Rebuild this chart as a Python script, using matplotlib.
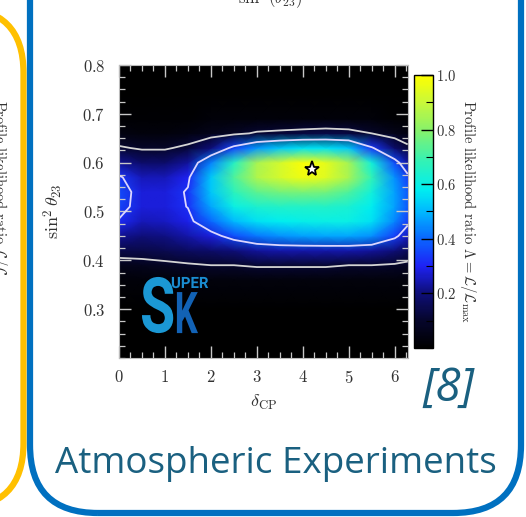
import numpy as np
import matplotlib
matplotlib.use("Agg")
import matplotlib.pyplot as plt
from matplotlib.colors import LinearSegmentedColormap
from matplotlib.patches import FancyBboxPatch, PathPatch
from matplotlib.textpath import TextPath
from matplotlib.font_manager import FontProperties
from matplotlib.transforms import IdentityTransform, Affine2D
from matplotlib.ticker import MultipleLocator

plt.rcParams['mathtext.fontset'] = 'cm'
plt.rcParams['font.family'] = ['cmr10', 'DejaVu Sans']
plt.rcParams['axes.formatter.use_mathtext'] = True

# grid
dcp = [0.0, 0.5, 1.0, 1.5, 2.0, 2.5, 3.0, 3.5, 4.0, 4.5, 5.0, 5.5, 6.0, 6.283]
s23 = [0.20, 0.30, 0.36, 0.39, 0.42, 0.45, 0.48, 0.51, 0.54, 0.57, 0.60, 0.63, 0.66, 0.69, 0.74, 0.80]
lam_cols = [
    [0, 0, 0.02, 0.06, 0.14, 0.22, 0.31, 0.35, 0.36, 0.33, 0.22, 0.11, 0.04, 0.01, 0, 0],
    [0, 0, 0.02, 0.07, 0.14, 0.20, 0.25, 0.28, 0.28, 0.25, 0.18, 0.09, 0.03, 0.01, 0, 0],
    [0, 0, 0.02, 0.08, 0.15, 0.21, 0.26, 0.28, 0.28, 0.25, 0.18, 0.09, 0.03, 0.01, 0, 0],
    [0, 0, 0.03, 0.09, 0.17, 0.24, 0.29, 0.32, 0.325, 0.30, 0.23, 0.12, 0.04, 0.01, 0, 0],
    [0, 0, 0.03, 0.10, 0.18, 0.28, 0.40, 0.48, 0.52, 0.52, 0.43, 0.20, 0.06, 0.02, 0, 0],
    [0, 0, 0.03, 0.10, 0.20, 0.36, 0.50, 0.60, 0.67, 0.72, 0.66, 0.35, 0.08, 0.02, 0, 0],
    [0, 0, 0.03, 0.11, 0.23, 0.42, 0.56, 0.64, 0.74, 0.86, 0.85, 0.46, 0.11, 0.02, 0, 0],
    [0, 0, 0.03, 0.11, 0.24, 0.45, 0.58, 0.65, 0.77, 0.92, 0.92, 0.52, 0.12, 0.02, 0, 0],
    [0, 0, 0.03, 0.11, 0.24, 0.47, 0.59, 0.65, 0.78, 0.97, 0.99, 0.56, 0.13, 0.02, 0, 0],
    [0, 0, 0.03, 0.11, 0.24, 0.48, 0.60, 0.65, 0.77, 0.94, 0.95, 0.56, 0.14, 0.02, 0, 0],
    [0, 0, 0.03, 0.10, 0.24, 0.48, 0.60, 0.63, 0.72, 0.85, 0.84, 0.52, 0.13, 0.02, 0, 0],
    [0, 0, 0.03, 0.10, 0.23, 0.45, 0.56, 0.58, 0.62, 0.68, 0.62, 0.33, 0.10, 0.02, 0, 0],
    [0, 0, 0.03, 0.09, 0.20, 0.34, 0.44, 0.47, 0.47, 0.45, 0.36, 0.18, 0.06, 0.01, 0, 0],
    [0, 0, 0.03, 0.08, 0.16, 0.26, 0.34, 0.38, 0.38, 0.34, 0.24, 0.12, 0.04, 0.01, 0, 0],
]
best_fit = (4.2, 0.588)
cl_levels = [0.1, 0.317]
y_ticks = [0.3, 0.4, 0.5, 0.6, 0.7, 0.8]
cbar_ticks = [0.2, 0.4, 0.6, 0.8, 1.0]

Z = np.array(lam_cols).T

cmap = LinearSegmentedColormap.from_list('pl', [
    (0.0, '#000000'), (0.1, '#06062c'), (0.2, '#0e0e78'), (0.3, '#1e22f5'),
    (0.4, '#0a66ff'), (0.5, '#00b8ff'), (0.58, '#00eef0'), (0.68, '#30f2b8'),
    (0.8, '#88f26a'), (0.9, '#c8f83a'), (1.0, '#ffff00')])

fig = plt.figure(figsize=(5.26, 5.17), dpi=100)
fig.patch.set_facecolor('white')

ax = fig.add_axes([119/526, 1 - 358/517, 288.7/526, 293/517])
ax.set_facecolor('black')
mesh = ax.pcolormesh(dcp, s23, Z, cmap=cmap, vmin=0, vmax=1, shading='gouraud')
ax.contour(dcp, s23, Z, levels=cl_levels, colors=['#d4d4d4', '#dcd6ff'], linewidths=1.3)
ax.plot(*best_fit, marker='*', ms=11, mfc='white', mec='black', mew=1.3)
ax.set_xlim(0, 2*np.pi)
ax.set_ylim(0.2, 0.8)
ax.xaxis.set_major_locator(MultipleLocator(1))
ax.xaxis.set_minor_locator(MultipleLocator(0.25))
ax.set_yticks(y_ticks)
ax.yaxis.set_minor_locator(MultipleLocator(0.025))
ax.tick_params(which='both', direction='in', top=True, right=True,
               color='#c8c8c8', labelcolor='#333333', labelsize=12)
ax.tick_params(which='major', length=8.5, width=1)
ax.tick_params(which='minor', length=4.5, width=0.9)
ax.tick_params(axis='y', pad=10)
ax.tick_params(axis='x', pad=8)
for sp in ax.spines.values():
    sp.set_color('#bbbbbb')
ax.set_xlabel(r'$\delta_{\rm CP}$', fontsize=13, color='#333333', labelpad=5)
ax.set_ylabel(r'$\sin^2\theta_{23}$', fontsize=13, color='#333333', labelpad=12)

# Super-K logo
logo_font = FontProperties(family='Roboto', weight='bold')
def logo_text(s, x0, x1, y0, y1, color):
    tp = TextPath((0, 0), s, size=1, prop=logo_font)
    ext = tp.get_extents()
    tr = Affine2D().translate(-ext.x0, -ext.y0).scale((x1-x0)/ext.width, (y1-y0)/ext.height).translate(x0, y0)
    ax.add_patch(PathPatch(tr.transform_path(tp), fc=color, ec='none'))
logo_text('S', 0.5, 1.18, 0.251, 0.366, '#1b98d5')
logo_text('K', 1.26, 1.72, 0.251, 0.335, '#1262b5')
logo_text('UPER', 1.15, 1.94, 0.343, 0.366, '#1a8cd0')

cax = fig.add_axes([414/526, 1 - 348/517, 19/526, 273/517])
cb = fig.colorbar(mesh, cax=cax, ticks=cbar_ticks)
cb.outline.set_edgecolor('black')
cb.outline.set_linewidth(1)
cax.yaxis.set_minor_locator(MultipleLocator(0.1))
cax.tick_params(which='both', direction='in', color='black', labelcolor='#333333', labelsize=10.5, pad=2)
cax.tick_params(which='major', length=9, width=1)
cax.tick_params(which='minor', length=5, width=0.8)
cb.set_label(r'Profile likelihood ratio $\Lambda = \mathcal{L}/\mathcal{L}_{\rm max}$',
             rotation=270, fontsize=10.5, color='#333333', labelpad=16)

# slide decorations
fig.add_artist(FancyBboxPatch((-400, 9), 423.5, 500, boxstyle='round,pad=0,rounding_size=65',
                              transform=IdentityTransform(), fc='none', ec='#FFC000', lw=4.5))
fig.add_artist(FancyBboxPatch((30, 4), 491, 700, boxstyle='round,pad=0,rounding_size=68',
                              transform=IdentityTransform(), fc='none', ec='#0070C0', lw=4.5))
fig.text(-1/526, 1 - 100/517, r'Profile likelihood ratio $\mathcal{L}/\mathcal{L}$', rotation=270,
         ha='center', va='top', fontsize=10.5, color='#333333')
fig.text(270/526, 1 - 4/517, r'$\sin^2(\theta_{23})$', ha='center', va='baseline',
         fontsize=12, color='#333333')
fig.text(448/526, 1 - 401/517, '[8]', ha='center', va='baseline', fontsize=33,
         style='italic', family='Open Sans', color='#1a6080')
fig.text(276/526, 1 - 473/517, 'Atmospheric Experiments', ha='center', va='baseline',
         fontsize=26.5, family='Open Sans', color='#1a6080')

fig.savefig('out.png', dpi=100)
